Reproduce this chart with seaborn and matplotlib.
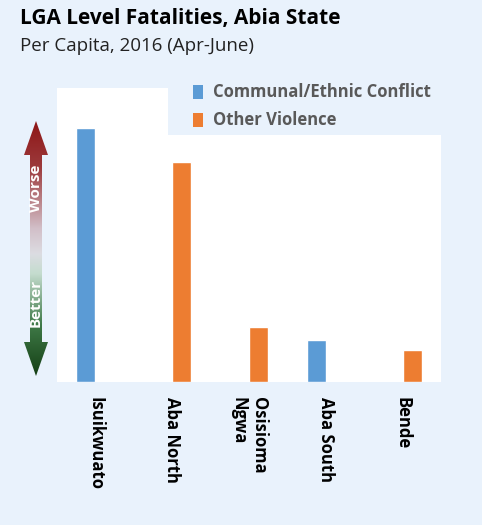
import numpy as np
import pandas as pd
import matplotlib
matplotlib.use("Agg")
import matplotlib.pyplot as plt
import seaborn as sns
from matplotlib.colors import LinearSegmentedColormap
from matplotlib.patches import Polygon, Rectangle

# data (arbitrary per-capita units)
lgas = ["Isuikwuato", "Aba North", "Osisioma\nNgwa", "Aba South", "Bende"]
violence_type = ["Communal/Ethnic Conflict", "Other Violence", "Other Violence",
                 "Communal/Ethnic Conflict", "Other Violence"]
fatalities = [25.4, 22.0, 5.5, 4.2, 3.2]
hue_order = ["Communal/Ethnic Conflict", "Other Violence"]
palette = {"Communal/Ethnic Conflict": "#5B9BD5", "Other Violence": "#ED7D31"}

BG = "#E9F2FC"
W, H = 482, 525

df = pd.DataFrame({"lga": lgas, "type": violence_type, "value": fatalities})

sns.set_style("white")
plt.rcParams["font.family"] = ["Open Sans", "DejaVu Sans"]

fig = plt.figure(figsize=(W / 100, H / 100), dpi=100, facecolor=BG)


def px_axes(x0, y0, x1, y1):
    return fig.add_axes([x0 / W, 1 - y1 / H, (x1 - x0) / W, (y1 - y0) / H])


ax = px_axes(57, 88, 441, 382)
ax.set_facecolor("white")
sns.barplot(data=df, x="lga", y="value", hue="type", order=lgas,
            hue_order=hue_order, palette=palette, width=0.5, dodge=True,
            saturation=1, ax=ax, legend=False)
ax.set_xlim(-0.5, 4.5)
ax.set_ylim(0, 29.4)
for s in ax.spines.values():
    s.set_visible(False)
ax.set_xlabel("")
ax.set_ylabel("")
ax.set_yticks([])
ax.tick_params(axis="x", length=0, pad=11, labelcolor="black")
for lab in ax.get_xticklabels():
    lab.set_rotation(270)
    lab.set_fontweight("bold")
    lab.set_fontsize(12)
    lab.set_va("top")
    lab.set_ha("center")
    lab.set_multialignment("left")

# legend sits on a patch of background colour cut into the plot area
x0 = (168 - 57) / 384
y0 = (382 - 135) / 294
ax.add_patch(Rectangle((x0, y0), 1.01 - x0, 1.2 - y0, transform=ax.transAxes,
                       facecolor=BG, edgecolor="none", clip_on=False, zorder=5))
for i, t in enumerate(hue_order):
    ypx = 92 + 28 * i
    fig.patches.append(Rectangle((193 / W, 1 - (ypx + 7) / H), 10 / W, 14 / H,
                                 transform=fig.transFigure, facecolor=palette[t],
                                 edgecolor="none", zorder=6))
    fig.text(213 / W, 1 - ypx / H, t, fontsize=12, fontweight="bold",
             color="#595959", va="center", ha="left", zorder=6)

fig.text(20 / W, 1 - 8 / H, "LGA Level Fatalities, Abia State", fontsize=15,
         fontweight="bold", color="black", va="top", ha="left")
fig.text(20 / W, 1 - 37 / H, "Per Capita, 2016 (Apr-June)", fontsize=13.5,
         color="#222222", va="top", ha="left")

# gradient worse/better arrow
aax = px_axes(24, 121, 48, 376)
aax.set_xlim(0, 24)
aax.set_ylim(255, 0)
aax.axis("off")
cmap = LinearSegmentedColormap.from_list(
    "wb", [(0, "#8E1616"), (0.18, "#9C3A3C"), (0.42, "#D2BFC8"), (0.52, "#DCDCE2"),
           (0.6, "#C4DCCE"), (0.8, "#3F7A48"), (1, "#143F14")])
grad = np.linspace(0, 1, 256).reshape(-1, 1)
img = aax.imshow(grad, cmap=cmap, extent=[0, 24, 255, 0], aspect="auto")
arrow = Polygon([(12, 0), (24, 34), (18, 34), (18, 221), (24, 221), (12, 255),
                 (0, 221), (6, 221), (6, 34), (0, 34)], closed=True,
                facecolor="none", edgecolor="none", transform=aax.transData)
aax.add_patch(arrow)
img.set_clip_path(arrow)
aax.text(12, 67, "Worse", rotation=90, color="white", fontsize=11,
         fontweight="bold", ha="center", va="center")
aax.text(12, 182, "Better", rotation=90, color="white", fontsize=11,
         fontweight="bold", ha="center", va="center")

fig.savefig("out.png", dpi=100, facecolor=BG)
